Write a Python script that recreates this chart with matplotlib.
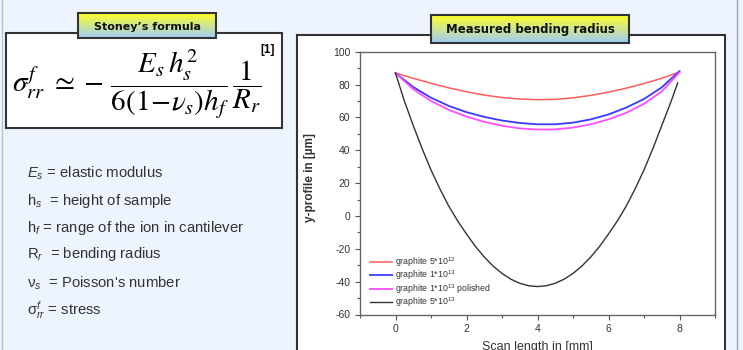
import numpy as np
import matplotlib
matplotlib.use("Agg")
from matplotlib import pyplot as plt
import matplotlib.patches as patches
from matplotlib.ticker import MultipleLocator

plt.rcParams["font.family"] = ["Liberation Sans", "DejaVu Sans"]
plt.rcParams["mathtext.fontset"] = "custom"
plt.rcParams["mathtext.rm"] = "Liberation Sans"
plt.rcParams["mathtext.it"] = "Liberation Sans:italic"
plt.rcParams["mathtext.bf"] = "Liberation Sans:bold"
plt.rcParams["axes.unicode_minus"] = False

# curves (scan length in mm, profile in um)
scan_mm = [0, 0.5, 1, 1.5, 2, 2.5, 3, 3.5, 4, 4.5, 5, 5.5, 6, 6.5, 7, 7.5, 8]
red_5e12 = [87.0, 83.8, 80.8, 78.0, 75.6, 73.6, 72.1, 71.2, 70.8,
            71.0, 71.9, 73.4, 75.4, 77.8, 80.6, 83.8, 87.6]
blue_1e13 = [87.0, 78.5, 72.0, 67.0, 63.2, 60.3, 58.1, 56.6, 55.8,
             55.8, 56.8, 58.8, 61.8, 66.0, 71.2, 78.3, 88.2]
magenta_1e13_pol = [87.0, 77.2, 70.0, 64.6, 60.5, 57.3, 54.9, 53.3, 52.6,
                    52.7, 53.8, 55.8, 58.8, 62.8, 68.3, 75.8, 87.4]
scan_black = [0, 0.25, 0.5, 0.75, 1, 1.25, 1.5, 1.75, 2, 2.25, 2.5, 2.75,
              3, 3.25, 3.5, 3.75, 4, 4.25, 4.5, 4.75, 5, 5.25, 5.5, 5.75,
              6, 6.25, 6.5, 6.75, 7, 7.25, 7.5, 7.75, 7.95]
black_5e13 = [87, 70, 55, 41, 28, 16.5, 6, -3, -11, -18.5, -25, -30.5,
              -35, -38.5, -41, -42.5, -43, -42.5, -41, -38.5, -35, -30.5,
              -25, -18.5, -11, -3, 6, 16.5, 28, 41, 55, 69, 81]

series_labels = [
    "graphite 5*10$^{12}$",
    "graphite 1*10$^{13}$",
    "graphite 1*10$^{13}$ polished",
    "graphite 5*10$^{13}$",
]
series_colors = ["#ff5c5c", "#3a3aff", "#ff4dff", "#333333"]

legend_terms = [
    "$E_s$ = elastic modulus",
    "h$_s$  = height of sample",
    "h$_f$ = range of the ion in cantilever",
    "R$_r$  = bending radius",
    "\u03bd$_s$  = Poisson's number",
    "\u03c3$^f_{rr}$ = stress",
]

W, H = 743, 350
BG = "#edf4fd"
EDGE = "#333333"

fig = plt.figure(figsize=(W / 100, H / 100), dpi=100, facecolor=BG)

# background layer in pixel coordinates
bg = fig.add_axes([0, 0, 1, 1], zorder=0)
bg.set_xlim(0, W)
bg.set_ylim(H, 0)
bg.axis("off")


def gradient_label(x0, y0, x1, y1, text, size):
    grad = np.linspace(0, 1, 64)[:, None]
    top = np.array([1.0, 1.0, 0.15])
    bottom = np.array([0.62, 0.80, 0.98])
    img = (1 - grad)[:, :, None] * top + grad[:, :, None] * bottom
    bg.imshow(img, extent=(x0, x1, y1, y0), aspect="auto", zorder=3)
    bg.add_patch(patches.Rectangle((x0, y0), x1 - x0, y1 - y0, fill=False,
                                   ec=EDGE, lw=1.5, zorder=4))
    bg.text((x0 + x1) / 2, (y0 + y1) / 2 + 1, text, ha="center", va="center",
            fontsize=size, weight="bold", family="DejaVu Sans", color="#111111",
            zorder=5)


bg.plot([1.5, 1.5], [0, H], color="#b8c2cc", lw=1)
bg.plot([737, 737], [0, H], color="#9aa4ae", lw=1)

bg.add_patch(patches.Rectangle((6, 33), 276, 95, fc="white", ec=EDGE, lw=1.5, zorder=1))
bg.add_patch(patches.Rectangle((297, 35), 428, 330, fc="white", ec=EDGE, lw=1.5, zorder=1))

gradient_label(78, 13, 216, 38, "Stoney\u2019s formula", 8)
gradient_label(431, 15, 629, 43, "Measured bending radius", 8.5)
bg.set_xlim(0, W)
bg.set_ylim(H, 0)

bg.text(12, 84, r"$\sigma_{rr}^{f}\ \simeq -\,\dfrac{E_s\,h_s^2}{6(1\!-\!\nu_s)h_f}\,\dfrac{1}{R_r}$",
        ha="left", va="center", fontsize=21, math_fontfamily="stix", color="black", zorder=2)
bg.text(260, 50, "[1]", ha="left", va="center", fontsize=8.5, weight="bold", zorder=2)

for i, term in enumerate(legend_terms):
    bg.text(27, [173, 201, 228, 254, 283, 310][i], term, ha="left", va="center",
            fontsize=10.7, color="#333333")

# measured profile plot
ax = fig.add_axes([360 / W, (H - 314.5) / H, 355 / W, 262.8 / H], zorder=2)
ax.set_facecolor("white")
ax.plot(scan_mm, red_5e12, color=series_colors[0], lw=1.1, label=series_labels[0])
ax.plot(scan_mm, blue_1e13, color=series_colors[1], lw=1.3, label=series_labels[1])
ax.plot(scan_mm, magenta_1e13_pol, color=series_colors[2], lw=1.3, label=series_labels[2])
ax.plot(scan_black, black_5e13, color=series_colors[3], lw=1.0, label=series_labels[3])

ax.set_xlim(-1, 9)
ax.set_ylim(-60, 100)
ax.xaxis.set_major_locator(MultipleLocator(2))
ax.xaxis.set_minor_locator(MultipleLocator(1))
ax.yaxis.set_major_locator(MultipleLocator(20))
ax.yaxis.set_minor_locator(MultipleLocator(10))
ax.tick_params(which="both", direction="out", colors="#555555", labelcolor="#333333",
               labelsize=7.5, top=False, right=False)
ax.tick_params(which="major", length=3.5, width=0.8)
ax.tick_params(which="minor", length=2, width=0.8)
for sp in ax.spines.values():
    sp.set_color("#666666")
    sp.set_linewidth(1.0)

ax.set_ylabel("y-profile in [\u00b5m]", fontsize=8.5, weight="bold", color="#333333", va="center")
ax.yaxis.set_label_coords(-0.141, 0.52)
ax.set_xlabel("Scan length in [mm]", fontsize=9, color="#333333")
ax.xaxis.set_label_coords(0.5, -0.10)

ax.legend(loc="lower left", bbox_to_anchor=(0.018, 0.008), frameon=False, fontsize=6.3,
          handlelength=2.5, handletextpad=0.35, labelspacing=-0.05, borderaxespad=0,
          labelcolor="#333333")

fig.savefig("out.png", dpi=100, facecolor=BG)
